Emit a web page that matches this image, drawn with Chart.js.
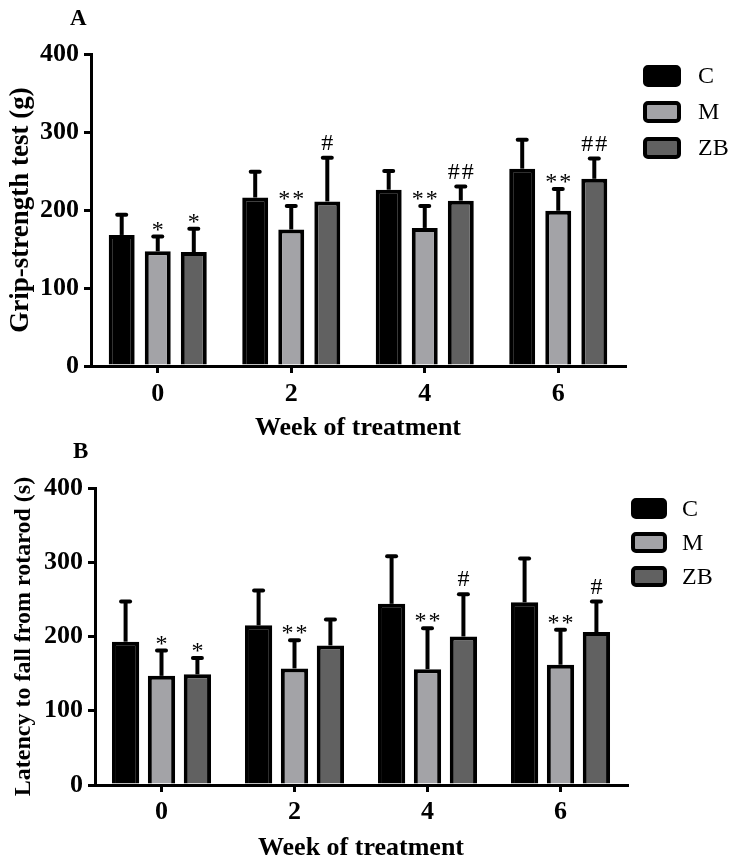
<!doctype html>
<html lang="en">
<head>
  <meta charset="utf-8">
  <title>Grip strength and rotarod</title>
  <script src="https://cdn.jsdelivr.net/npm/chart.js"></script>
  <style>
    body { margin: 0; background: #fff; overflow: hidden; }
    canvas { position: absolute; left: 0; }
  </style>
</head>
<body>
  <canvas id="canvas_grip" width="734" height="450" style="top:0"></canvas>
  <canvas id="canvas_rotarod" width="734" height="445" style="top:429px"></canvas>
  <script>
    const weeks = ['0', '2', '4', '6'];
    const group_names = ['C', 'M', 'ZB'];
    const group_colors = ['#000000', '#a3a3a7', '#616161'];

    // panel A, grip strength (g): mean and upper SD
    const grip_c = [168, 216, 226, 253];
    const grip_m = [147, 175, 177, 199];
    const grip_zb = [146, 211, 212, 240];
    const grip_c_sd = [26, 33, 24, 37];
    const grip_m_sd = [19, 30, 28, 28];
    const grip_zb_sd = [30, 56, 18, 26];
    const grip_m_marks = ['*', '**', '**', '**'];
    const grip_zb_marks = ['*', '#', '##', '##'];

    // panel B, latency to fall (s)
    const rota_c = [193, 215, 244, 246];
    const rota_m = [147, 157, 156, 162];
    const rota_zb = [149, 188, 200, 206];
    const rota_c_sd = [54, 47, 64, 59];
    const rota_m_sd = [34, 38, 55, 47];
    const rota_zb_sd = [22, 35, 57, 41];
    const rota_m_marks = ['*', '**', '**', '**'];
    const rota_zb_marks = ['*', '', '#', '#'];

    const no_marks = ['', '', '', ''];
    const y_ticks = [0, 100, 200, 300, 400];

    const serif = "'Liberation Serif', 'Times New Roman', serif";

    const error_bars = {
      id: 'error_bars',
      afterDatasetsDraw(chart) {
        const { ctx } = chart;
        const y = chart.scales.y;
        ctx.save();
        chart.data.datasets.forEach((ds, i) => {
          chart.getDatasetMeta(i).data.forEach((bar, j) => {
            const top = y.getPixelForValue(ds.data[j] + ds.sd[j]);
            const x = bar.x;
            ctx.strokeStyle = '#000';
            ctx.lineWidth = 4;
            ctx.lineCap = 'butt';
            ctx.beginPath(); ctx.moveTo(x, bar.y); ctx.lineTo(x, top); ctx.stroke();
            ctx.lineCap = 'round';
            ctx.beginPath(); ctx.moveTo(x - 4.5, top); ctx.lineTo(x + 4.5, top); ctx.stroke();
            const mark = ds.marks[j];
            if (mark) {
              ctx.fillStyle = '#000';
              ctx.font = '24px ' + serif;
              ctx.letterSpacing = '2px';
              ctx.textAlign = 'center';
              ctx.textBaseline = 'alphabetic';
              ctx.fillText(mark, x + 1, top - (mark.includes('#') ? 8 : 0));
            }
          });
        });
        ctx.restore();
      }
    };

    const box_legend = {
      id: 'box_legend',
      afterDraw(chart, args, opts) {
        const { ctx } = chart;
        ctx.save();
        chart.data.datasets.forEach((ds, i) => {
          const top = opts.top + i * opts.gap;
          ctx.beginPath();
          ctx.roundRect(opts.left + 2, top + 2, opts.width - 4, opts.height - 4, 3);
          ctx.fillStyle = ds.backgroundColor;
          ctx.fill();
          ctx.lineWidth = 4;
          ctx.strokeStyle = '#000';
          ctx.stroke();
          ctx.fillStyle = '#000';
          ctx.font = '24px ' + serif;
          ctx.textAlign = 'left';
          ctx.textBaseline = 'middle';
          ctx.fillText(ds.label, opts.text_x, top + opts.height / 2 + 1);
        });
        ctx.restore();
      }
    };

    const panel_letter = {
      id: 'panel_letter',
      afterDraw(chart, args, opts) {
        const { ctx } = chart;
        ctx.save();
        ctx.fillStyle = '#000';
        ctx.font = 'bold 23px ' + serif;
        ctx.textAlign = 'left';
        ctx.textBaseline = 'alphabetic';
        ctx.fillText(opts.text, opts.x, opts.y);
        ctx.restore();
      }
    };

    function make_chart(canvas, p) {
      const series = [p.c, p.m, p.zb];
      const sds = [p.c_sd, p.m_sd, p.zb_sd];
      const marks = [no_marks, p.m_marks, p.zb_marks];
      return new Chart(canvas, {
        type: 'bar',
        data: {
          labels: weeks,
          datasets: group_names.map((name, i) => ({
            label: name,
            data: series[i],
            sd: sds[i],
            marks: marks[i],
            backgroundColor: group_colors[i],
            borderColor: '#000',
            borderWidth: 4,
            categoryPercentage: 0.81,
            barPercentage: p.bar_pct
          }))
        },
        options: {
          responsive: false,
          animation: false,
          layout: { padding: { top: p.pad_top, right: p.pad_right, left: 0, bottom: 0 } },
          plugins: {
            legend: { display: false },
            tooltip: { enabled: false },
            box_legend: p.legend,
            panel_letter: p.letter
          },
          scales: {
            x: {
              offset: true,
              afterFit: (scale) => { scale.height = p.x_height; },
              grid: { offset: false, drawOnChartArea: false, drawTicks: true, tickLength: 7, lineWidth: 3, color: '#000' },
              border: { display: true, color: '#000', width: 3 },
              ticks: { color: '#000', padding: p.x_tick_pad, font: { family: serif, size: 26, weight: 'bold' } },
              title: { display: true, text: 'Week of treatment', color: '#000', padding: { top: 0, bottom: p.x_title_pad }, font: { family: serif, size: 26, weight: 'bold' } }
            },
            y: {
              min: 0,
              max: 400,
              afterFit: (scale) => { scale.width = p.y_width; },
              afterBuildTicks: (scale) => { scale.ticks = y_ticks.map(v => ({ value: v })); },
              grid: { drawOnChartArea: false, drawTicks: true, tickLength: 7, lineWidth: 3, color: '#000' },
              border: { display: true, color: '#000', width: 3 },
              ticks: { color: '#000', padding: 5, font: { family: serif, size: 26, weight: 'bold' } },
              title: { display: true, text: p.y_title, color: '#000', padding: { top: p.y_title_pad, bottom: 0 }, font: { family: serif, size: p.y_title_size, weight: 'bold' } }
            }
          }
        },
        plugins: [error_bars, box_legend, panel_letter]
      });
    }

    make_chart(document.getElementById('canvas_grip'), {
      c: grip_c, m: grip_m, zb: grip_zb,
      c_sd: grip_c_sd, m_sd: grip_m_sd, zb_sd: grip_zb_sd,
      m_marks: grip_m_marks, zb_marks: grip_zb_marks,
      y_title: 'Grip-strength test (g)', y_title_size: 27, y_title_pad: 5,
      bar_pct: 0.72,
      pad_top: 54, pad_right: 109, y_width: 91, x_height: 84, x_tick_pad: 6, x_title_pad: 6,
      legend: { left: 643, top: 65, width: 38, height: 22, gap: 36, text_x: 698 },
      letter: { text: 'A', x: 70, y: 25 }
    });

    make_chart(document.getElementById('canvas_rotarod'), {
      c: rota_c, m: rota_m, zb: rota_zb,
      c_sd: rota_c_sd, m_sd: rota_m_sd, zb_sd: rota_zb_sd,
      m_marks: rota_m_marks, zb_marks: rota_zb_marks,
      y_title: 'Latency to fall from rotarod (s)', y_title_size: 24, y_title_pad: 9,
      bar_pct: 0.76,
      pad_top: 59, pad_right: 107, y_width: 95, x_height: 89, x_tick_pad: 5, x_title_pad: 10,
      legend: { left: 631, top: 69, width: 36, height: 21, gap: 34, text_x: 682 },
      letter: { text: 'B', x: 73, y: 29 }
    });
  </script>
</body>
</html>
